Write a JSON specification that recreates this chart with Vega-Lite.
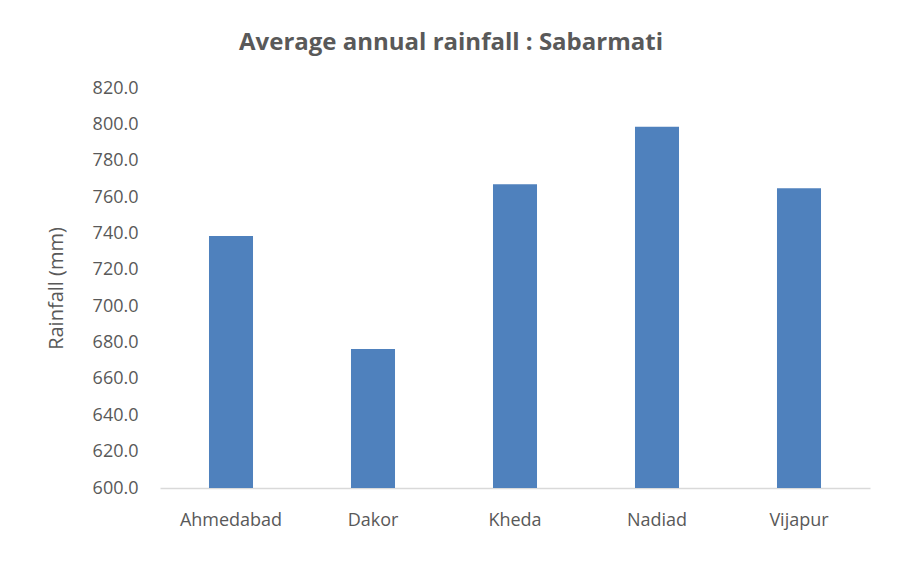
{
  "$schema": "https://vega.github.io/schema/vega-lite/v6.json",
  "autosize": "none",
  "width": 710,
  "height": 400,
  "padding": {"left": 160, "top": 88, "right": 32, "bottom": 74},
  "background": "white",
  "title": {
    "text": "Average annual rainfall : Sabarmati",
    "font": "Open Sans",
    "fontSize": 24,
    "fontWeight": "bold",
    "color": "#595959",
    "anchor": "middle",
    "dx": -64,
    "offset": 24
  },
  "data": {
    "values": [
      {"station": "Ahmedabad", "rainfall": 738.6},
      {"station": "Dakor", "rainfall": 676.5},
      {"station": "Kheda", "rainfall": 767.0},
      {"station": "Nadiad", "rainfall": 798.7},
      {"station": "Vijapur", "rainfall": 764.8}
    ]
  },
  "mark": {"type": "bar", "color": "#4F81BD", "clip": true},
  "encoding": {
    "x": {
      "field": "station",
      "type": "nominal",
      "sort": null,
      "scale": {"paddingInner": 0.69, "paddingOuter": 0.345},
      "axis": {
        "title": null,
        "labelAngle": 0,
        "labelFont": "Open Sans",
        "labelFontSize": 18,
        "labelColor": "#595959",
        "labelPadding": 23,
        "ticks": false,
        "domainColor": "#D9D9D9",
        "domainWidth": 1.5
      }
    },
    "y": {
      "field": "rainfall",
      "type": "quantitative",
      "scale": {"domain": [600, 820], "zero": false, "nice": false},
      "axis": {
        "title": "Rainfall (mm)",
        "titleFont": "Open Sans",
        "titleFontSize": 20,
        "titleFontWeight": "normal",
        "titleColor": "#595959",
        "titlePadding": 26,
        "values": [600, 620, 640, 660, 680, 700, 720, 740, 760, 780, 800, 820],
        "format": ".1f",
        "labelFont": "Open Sans",
        "labelFontSize": 18,
        "labelColor": "#595959",
        "labelPadding": 22,
        "ticks": false,
        "domain": false,
        "grid": false
      }
    }
  },
  "config": {"view": {"stroke": null}}
}
